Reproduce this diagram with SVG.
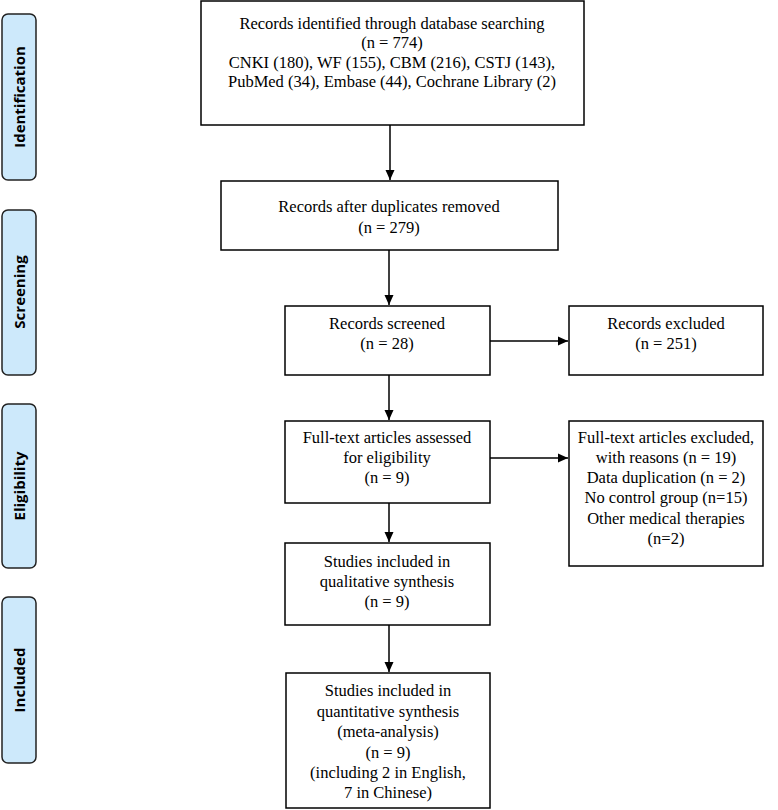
<svg xmlns="http://www.w3.org/2000/svg" width="778" height="810" viewBox="0 0 778 810">
<style>
.box{fill:#fff;stroke:#000;stroke-width:1.5}
.side{fill:#cde9fb;stroke:#222;stroke-width:1.5}
.t{font-family:"Liberation Serif","Times New Roman",serif;font-size:16.5px;fill:#000;text-anchor:middle}
.s{font-family:"Open Sans","DejaVu Sans",sans-serif;font-size:15px;font-weight:bold;fill:#000;text-anchor:middle}
.c{stroke:#000;stroke-width:1.5;fill:none}
</style>
<defs>
<marker id="ah" viewBox="0 0 10 10" refX="10" refY="5" markerWidth="10" markerHeight="10" markerUnits="userSpaceOnUse" orient="auto">
<path d="M0,0.5 L10,5 L0,9.5 z" fill="#000"/>
</marker>
</defs>
<rect width="778" height="810" fill="#fff"/>
<g id="side-identification"><rect class="side" x="2" y="14" width="34" height="166" rx="6"/><text class="s" transform="translate(24.5,97) rotate(-90)">Identification</text></g>
<g id="side-screening"><rect class="side" x="2" y="210" width="34" height="165" rx="6"/><text class="s" transform="translate(24.5,292) rotate(-90)">Screening</text></g>
<g id="side-eligibility"><rect class="side" x="2" y="404" width="34" height="164" rx="6"/><text class="s" transform="translate(24.5,486) rotate(-90)">Eligibility</text></g>
<g id="side-included"><rect class="side" x="2" y="597" width="34" height="166" rx="6"/><text class="s" transform="translate(24.5,680) rotate(-90)">Included</text></g>

<g id="identified"><rect class="box" x="201" y="1" width="383" height="124"/>
<text class="t" x="392" y="29">Records identified through database searching</text>
<text class="t" x="392" y="48">(n = 774)</text>
<text class="t" x="392" y="68">CNKI (180), WF (155), CBM (216), CSTJ (143),</text>
<text class="t" x="392" y="87">PubMed (34), Embase (44), Cochrane Library (2)</text></g>

<g id="dedup"><rect class="box" x="221" y="181" width="337" height="69"/>
<text class="t" x="389" y="212">Records after duplicates removed</text>
<text class="t" x="389" y="233">(n = 279)</text></g>

<g id="screened"><rect class="box" x="285" y="306" width="205" height="69"/>
<text class="t" x="387" y="329">Records screened</text>
<text class="t" x="387" y="349">(n = 28)</text></g>

<g id="excluded"><rect class="box" x="569" y="306" width="194" height="69"/>
<text class="t" x="666" y="329">Records excluded</text>
<text class="t" x="666" y="349">(n = 251)</text></g>

<g id="fulltext"><rect class="box" x="285" y="421" width="205" height="82"/>
<text class="t" x="387" y="443">Full-text articles assessed</text>
<text class="t" x="387" y="463">for eligibility</text>
<text class="t" x="387" y="483">(n = 9)</text></g>

<g id="fulltext-excluded"><rect class="box" x="569" y="421" width="194" height="145"/>
<text class="t" x="666" y="443">Full-text articles excluded,</text>
<text class="t" x="666" y="463">with reasons (n = 19)</text>
<text class="t" x="666" y="483">Data duplication (n = 2)</text>
<text class="t" x="666" y="503">No control group (n=15)</text>
<text class="t" x="666" y="524">Other medical therapies</text>
<text class="t" x="666" y="544">(n=2)</text></g>

<g id="qualitative"><rect class="box" x="285" y="543" width="205" height="82"/>
<text class="t" x="387" y="567">Studies included in</text>
<text class="t" x="387" y="587">qualitative synthesis</text>
<text class="t" x="387" y="607">(n = 9)</text></g>

<g id="quantitative"><rect class="box" x="286" y="673" width="204" height="135"/>
<text class="t" x="388" y="696">Studies included in</text>
<text class="t" x="388" y="717">quantitative synthesis</text>
<text class="t" x="388" y="737">(meta-analysis)</text>
<text class="t" x="388" y="758">(n = 9)</text>
<text class="t" x="388" y="778">(including 2 in English,</text>
<text class="t" x="388" y="798">7 in Chinese)</text></g>

<g id="connectors">
<line class="c" x1="390" y1="125" x2="390" y2="180" marker-end="url(#ah)"/>
<line class="c" x1="389" y1="250" x2="389" y2="305" marker-end="url(#ah)"/>
<line class="c" x1="490" y1="341" x2="568" y2="341" marker-end="url(#ah)"/>
<line class="c" x1="389" y1="375" x2="389" y2="420" marker-end="url(#ah)"/>
<line class="c" x1="490" y1="458" x2="568" y2="458" marker-end="url(#ah)"/>
<line class="c" x1="389" y1="503" x2="389" y2="542" marker-end="url(#ah)"/>
<line class="c" x1="389" y1="625" x2="389" y2="672" marker-end="url(#ah)"/>
</g>
</svg>
